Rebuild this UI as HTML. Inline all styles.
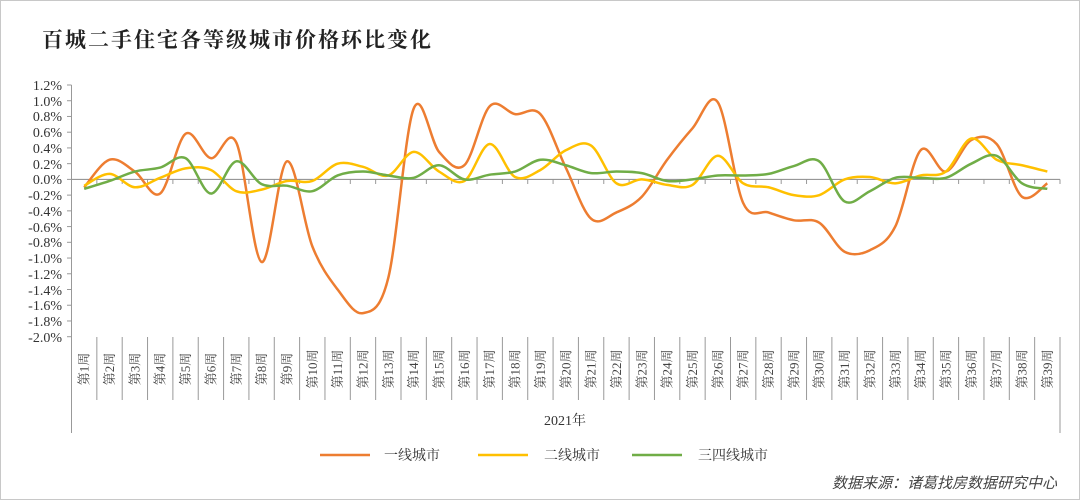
<!DOCTYPE html>
<html><head><meta charset="utf-8"><style>
html,body{margin:0;padding:0;background:#fff}
svg{display:block}
.t{font-family:"Liberation Serif","Noto Serif CJK SC",serif;font-size:14px;fill:#333}
.c{font-family:"Liberation Serif","Noto Serif CJK SC",serif;font-size:13px;fill:#444}
</style></head><body>
<svg id="s" width="1080" height="500" viewBox="0 0 1080 500" xmlns="http://www.w3.org/2000/svg">
<rect x="0.5" y="0.5" width="1079" height="499" fill="#fff" stroke="#c8c8c8"/>
<text x="42" y="47" style="font-family:'Noto Serif CJK SC',serif;font-size:21px;font-weight:bold;fill:#222;letter-spacing:2px">百城二手住宅各等级城市价格环比变化</text>
<g stroke="#999" stroke-width="1" fill="none">
<line x1="71.5" y1="85" x2="71.5" y2="433"/>
<line x1="1060" y1="337" x2="1060" y2="433"/>
<line x1="71.5" y1="179.4" x2="1060" y2="179.4" stroke="#888"/>
</g>
<g id="ticks" stroke="#999" stroke-width="1"></g>
<g class="t" text-anchor="end">
<text x="62" y="90">1.2%</text><text x="62" y="106">1.0%</text><text x="62" y="121">0.8%</text><text x="62" y="137">0.6%</text><text x="62" y="153">0.4%</text><text x="62" y="169">0.2%</text><text x="62" y="184">0.0%</text><text x="62" y="200">-0.2%</text><text x="62" y="216">-0.4%</text><text x="62" y="232">-0.6%</text><text x="62" y="247">-0.8%</text><text x="62" y="263">-1.0%</text><text x="62" y="279">-1.2%</text><text x="62" y="295">-1.4%</text><text x="62" y="310">-1.6%</text><text x="62" y="326">-1.8%</text><text x="62" y="342">-2.0%</text>
</g>
<g id="labs" class="c" text-anchor="middle">
<text>第1周</text><text>第2周</text><text>第3周</text><text>第4周</text><text>第5周</text><text>第6周</text><text>第7周</text><text>第8周</text><text>第9周</text><text>第10周</text><text>第11周</text><text>第12周</text><text>第13周</text><text>第14周</text><text>第15周</text><text>第16周</text><text>第17周</text><text>第18周</text><text>第19周</text><text>第20周</text><text>第21周</text><text>第22周</text><text>第23周</text><text>第24周</text><text>第25周</text><text>第26周</text><text>第27周</text><text>第28周</text><text>第29周</text><text>第30周</text><text>第31周</text><text>第32周</text><text>第33周</text><text>第34周</text><text>第35周</text><text>第36周</text><text>第37周</text><text>第38周</text><text>第39周</text>
</g>
<text x="565" y="425" class="t" text-anchor="middle">2021年</text>
<path id="p1" fill="none" stroke="#ED7D31" stroke-width="2.5"/>
<path id="p2" fill="none" stroke="#FFC000" stroke-width="2.5"/>
<path id="p3" fill="none" stroke="#70AD47" stroke-width="2.5"/>
<g stroke-width="2.5">
<line x1="320" y1="455" x2="370" y2="455" stroke="#ED7D31"/>
<line x1="478" y1="455" x2="528" y2="455" stroke="#FFC000"/>
<line x1="632" y1="455" x2="682" y2="455" stroke="#70AD47"/>
</g>
<g class="t">
<text x="384" y="460">一线城市</text><text x="544" y="460">二线城市</text><text x="698" y="460">三四线城市</text>
</g>
<text x="1057" y="488" text-anchor="end" style="font-family:'Noto Sans CJK SC',sans-serif;font-size:15px;font-style:italic;fill:#444">数据来源：诸葛找房数据研究中心</text>
</svg>
<script>
var w=(1060-71.5)/39,x0=71.5;
var tk=document.getElementById('ticks'),h='';
for(var i=0;i<=39;i++){var x=x0+i*w;h+='<line x1="'+x+'" y1="337" x2="'+x+'" y2="400"/>';h+='<line x1="'+x+'" y1="179.4" x2="'+x+'" y2="184"/>';}
for(var j=0;j<=16;j++){var y=85+j*251.7/16;h+='<line x1="67" y1="'+y+'" x2="71.5" y2="'+y+'"/>';}
tk.innerHTML=h;
var ls=document.getElementById('labs').children;
for(var i=0;i<ls.length;i++){var cx=x0+(i+0.5)*w+4.5,cy=369;ls[i].setAttribute('transform','translate('+cx+','+cy+') rotate(-90)');}
function Y(v){return 179.4-v*78.66;}
function path(d){var p=d.map(function(v,i){return[x0+(i+0.5)*w,Y(v)]});var s='M'+p[0][0]+','+p[0][1];
for(var i=0;i<p.length-1;i++){var a=p[i-1]||p[i],b=p[i],c=p[i+1],e=p[i+2]||c,t=6;
s+=' C'+(b[0]+(c[0]-a[0])/t)+','+(b[1]+(c[1]-a[1])/t)+' '+(c[0]-(e[0]-b[0])/t)+','+(c[1]-(e[1]-b[1])/t)+' '+c[0]+','+c[1];}return s;}
var o=[-0.1,0.25,0.1,-0.18,0.58,0.27,0.47,-1.05,0.23,-0.85,-1.4,-1.7,-1.25,0.9,0.35,0.18,0.93,0.83,0.83,0.15,-0.5,-0.42,-0.22,0.25,0.65,0.98,-0.3,-0.42,-0.52,-0.55,-0.92,-0.9,-0.6,0.37,0.1,0.5,0.45,-0.22,-0.05];
var yl=[-0.08,0.07,-0.1,0.02,0.14,0.12,-0.15,-0.13,-0.02,-0.02,0.2,0.16,0.05,0.35,0.1,-0.02,0.45,0.03,0.12,0.37,0.43,-0.05,0,-0.07,-0.07,0.3,-0.05,-0.1,-0.2,-0.2,0,0.03,-0.05,0.05,0.1,0.52,0.25,0.18,0.1];
var g=[-0.12,-0.02,0.1,0.15,0.27,-0.18,0.23,-0.06,-0.08,-0.15,0.05,0.1,0.05,0.02,0.18,0,0.06,0.1,0.25,0.18,0.08,0.1,0.08,-0.02,0,0.05,0.05,0.07,0.17,0.23,-0.28,-0.15,0.02,0.02,0.02,0.2,0.3,-0.05,-0.12];
document.getElementById('p1').setAttribute('d',path(o));
document.getElementById('p2').setAttribute('d',path(yl));
document.getElementById('p3').setAttribute('d',path(g));
</script>
</body></html>
